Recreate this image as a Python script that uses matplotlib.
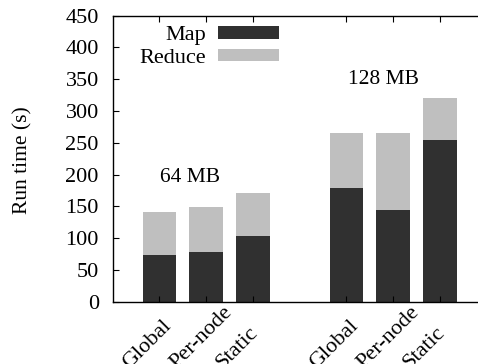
import matplotlib
matplotlib.use("Agg")
import matplotlib.pyplot as plt
import matplotlib.transforms as mtransforms

plt.rcParams['font.family'] = ['Liberation Serif', 'DejaVu Serif']
plt.rcParams['font.size'] = 16

schemes = ["Global", "Per-node", "Static"]
groups = ["64 MB", "128 MB"]
map_64 = [74, 78, 104]
reduce_64 = [67, 71, 67]
map_128 = [179, 144, 254]
reduce_128 = [86, 121, 67]

map_col = "#303030"
red_col = "#bfbfbf"

fig = plt.figure(figsize=(4.78, 3.64), dpi=100)
ax = fig.add_axes([0.2358, 0.1712, 0.7822, 0.7857])

pos_64 = [1, 2, 3]
pos_128 = [5, 6, 7]
w = 0.72

ax.bar(pos_64, map_64, w, color=map_col, label="Map")
ax.bar(pos_64, reduce_64, w, bottom=map_64, color=red_col, label="Reduce")
ax.bar(pos_128, map_128, w, color=map_col)
ax.bar(pos_128, reduce_128, w, bottom=map_128, color=red_col)

ax.text(1.654, 196, groups[0], ha="center", va="center", fontsize=15.5)
ax.text(5.80, 349, groups[1], ha="center", va="center", fontsize=15.5)

ax.set_xlim(0, 8)
ax.set_ylim(0, 450)
ax.set_yticks(range(0, 451, 50))
ax.set_xticks(pos_64 + pos_128)
ax.set_xticklabels([])
# gnuplot-style rotated labels: left-justified, starting below-left of the tick
offset = mtransforms.ScaledTranslation(-30 / 100, -67 / 100, fig.dpi_scale_trans)
lab_trans = ax.get_xaxis_transform() + offset
for p, name in zip(pos_64 + pos_128, schemes + schemes):
    ax.text(p, 0, name, transform=lab_trans, rotation=45, ha="left", va="baseline",
            rotation_mode="anchor", clip_on=False)

ax.tick_params(direction="in", top=True, right=False, length=4, width=0.8)
ax.tick_params(axis="y", pad=10)
ax.spines["right"].set_visible(False)
for s in ax.spines.values():
    s.set_linewidth(1.0)

ax.set_ylabel("Run time (s)", fontsize=15.5)
ax.yaxis.set_label_coords(-0.2158, 0.4955)

ax.legend(loc="upper right", bbox_to_anchor=(0.4448, 0.964), frameon=False, markerfirst=False,
          handlelength=2.75, handleheight=0.5, labelspacing=0.15, handletextpad=0.54,
          borderaxespad=0.0, borderpad=0.0)

fig.savefig("out.png", dpi=100)
